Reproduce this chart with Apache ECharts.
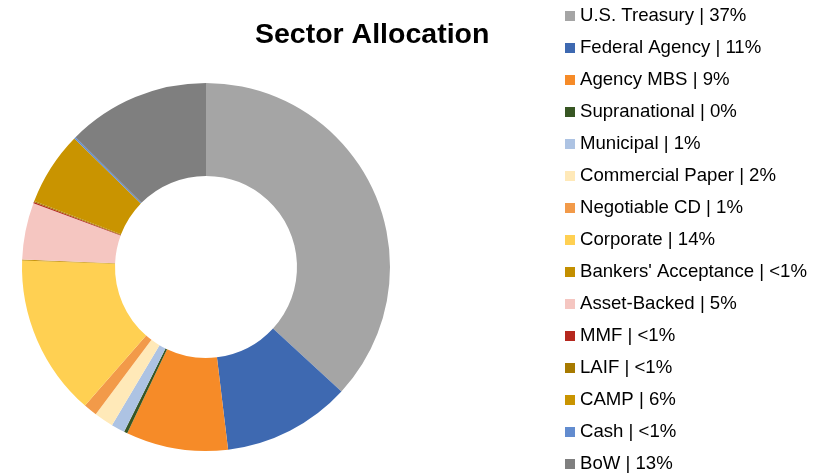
<!DOCTYPE html>
<html>
<head>
<meta charset="utf-8">
<script src="https://cdn.jsdelivr.net/npm/echarts@6/dist/echarts.min.js"></script>
<style>
  html, body { margin: 0; padding: 0; background: #fff; }
  #echarts { width: 829px; height: 474px; }
</style>
</head>
<body>
<div id="echarts"></div>
<script>
// sectors, clockwise from 12 o'clock
var sectors = ['U.S. Treasury', 'Federal Agency', 'Agency MBS', 'Supranational', 'Municipal',
               'Commercial Paper', 'Negotiable CD', 'Corporate', "Bankers' Acceptance", 'Asset-Backed',
               'MMF', 'LAIF', 'CAMP', 'Cash', 'BoW'];
// share of portfolio (%)
var shares = [37.0, 11.3, 9.0, 0.3, 1.2, 1.7, 1.2, 14.2, 0.1, 5.0, 0.1, 0.1, 6.5, 0.15, 12.6];
// percentage text as printed in the legend
var pctLabels = ['37%', '11%', '9%', '0%', '1%', '2%', '1%', '14%', '<1%', '5%', '<1%', '<1%', '6%', '<1%', '13%'];
var colors = ['#A5A5A5', '#3E69B1', '#F68B28', '#375623', '#ADC3E3',
              '#FFE9B8', '#F29A49', '#FFD052', '#C38F00', '#F5C6C1',
              '#B5281E', '#A77A00', '#C99400', '#628CCF', '#7F7F7F'];

window.onload = function(){
    var font = 'Arial, "Liberation Sans", sans-serif';
    var data = [];
    for (var i = 0; i < sectors.length; i++) {
        data.push({ name: sectors[i], value: shares[i] });
    }
    var option = {
        animation: false,
        color: colors,
        title: {
            text: 'Sector Allocation',
            left: 255,
            top: 21,
            padding: 0,
            textStyle: { fontFamily: font, fontSize: 28.5, fontWeight: 'bold', color: '#000' }
        },
        legend: {
            orient: 'vertical',
            left: 565,
            top: 6,
            height: 600,
            padding: 0,
            itemWidth: 10,
            itemHeight: 10,
            itemGap: 12,
            icon: 'rect',
            data: sectors,
            formatter: function (name) {
                return name + ' | ' + pctLabels[sectors.indexOf(name)];
            },
            textStyle: { fontFamily: font, fontSize: 18.6, color: '#000', lineHeight: 20 }
        },
        series: [{
            type: 'pie',
            center: [206, 267],
            radius: [91, 184],
            startAngle: 90,
            clockwise: true,
            avoidLabelOverlap: false,
            label: { show: false },
            labelLine: { show: false },
            emphasis: { disabled: true },
            itemStyle: { borderWidth: 0 },
            data: data
        }]
    };
    var myChart = echarts.init(document.getElementById('echarts'));
    myChart.setOption(option);
};
</script>
</body>
</html>
